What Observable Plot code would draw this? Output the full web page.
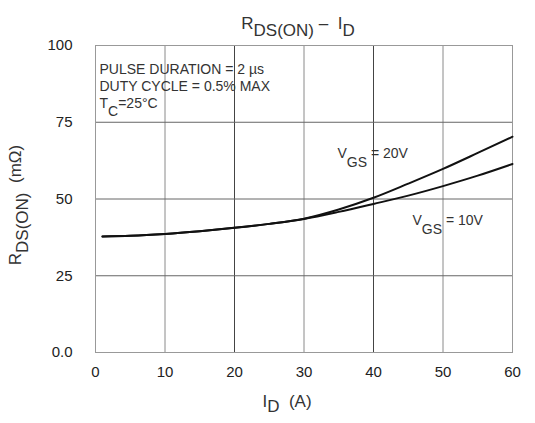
<!DOCTYPE html>
<html><head><meta charset="utf-8">
<script src="https://cdn.jsdelivr.net/npm/d3@7"></script>
<script src="https://cdn.jsdelivr.net/npm/@observablehq/plot@0.6"></script>
<style>body{margin:0;background:#fff}</style>
</head><body><div id="chart"></div>
<script>
// Drain current I_D (A)
const currentA = [1, 5, 10, 15, 20, 25, 30, 35, 40, 45, 50, 55, 60];
// R_DS(ON) (mΩ) at V_GS = 10 V and 20 V
const rdsVgs10 = [37.8, 38.0, 38.6, 39.5, 40.6, 41.9, 43.5, 45.8, 48.4, 51.1, 54.2, 57.6, 61.4];
const rdsVgs20 = [37.8, 38.0, 38.6, 39.5, 40.6, 41.9, 43.6, 46.6, 50.4, 55.0, 59.8, 65.0, 70.3];
const xTicks = [0, 10, 20, 30, 40, 50, 60];
const yTicks = [0, 25, 50, 75, 100];
const yTickLabels = ["0.0", "25", "50", "75", "100"];
// Text pieces: [text, isSubscript]
const titleSegs = [["R", 0], ["DS(ON)", 1], [" \u2013  ", 0], ["I", 0], ["D", 1]];
const xLabelSegs = [["I", 0], ["D", 1], ["  (A)", 0]];
const yLabelSegs = [["R", 0], ["DS(ON)", 1], ["  (m\u03A9)", 0]];
const noteLines = ["PULSE DURATION = 2 \u00B5s", "DUTY CYCLE = 0.5% MAX", "TC=25\u00B0C"];
const noteTcSegs = [["T", 0], ["C", 1], ["=25\u00B0C", 0]];
const vgs20Segs = [["V", 0], ["GS", 1], [" = 20V", 0]];
const vgs10Segs = [["V", 0], ["GS", 1], [" = 10V", 0]];

const series = [
  ...currentA.map((x, i) => ({x, r: rdsVgs10[i], s: "10V"})),
  ...currentA.map((x, i) => ({x, r: rdsVgs20[i], s: "20V"}))
];
const plain = segs => segs.map(d => d[0]).join("");
const font = "Liberation Sans, Arial, Helvetica, sans-serif";

const svg = Plot.plot({
  width: 535, height: 423,
  marginLeft: 95, marginRight: 23, marginTop: 45, marginBottom: 71,
  style: {fontFamily: font, fontSize: "15px", color: "#222", background: "#fff"},
  x: {domain: [0, 60], ticks: xTicks, tickSize: 0, tickPadding: 14, label: null},
  y: {domain: [0, 100], ticks: yTicks, tickSize: 0, tickPadding: 23, label: null,
      tickFormat: d => yTickLabels[yTicks.indexOf(d)]},
  marks: [
    Plot.ruleX(xTicks.filter(d => d % 20 !== 0), {stroke: "#8a8a8a", strokeWidth: 1}),
    Plot.ruleX(xTicks.filter(d => d % 20 === 0 && d > 0 && d < 60), {stroke: "#444", strokeWidth: 1}),
    Plot.ruleY(yTicks, {stroke: "#666", strokeWidth: 1}),
    Plot.frame({stroke: "#999", strokeWidth: 1}),
    Plot.line(series, {x: "x", y: "r", z: "s", curve: "monotone-x", stroke: "#111", strokeWidth: 2}),
    Plot.text([plain(titleSegs)], {frameAnchor: "top", dx: -6, dy: -29, fontSize: 17, fill: "#333"}),
    Plot.text([plain(xLabelSegs)], {frameAnchor: "bottom", dx: -17, dy: 54, fontSize: 17, fill: "#333"}),
    Plot.text([plain(yLabelSegs)], {frameAnchor: "left", textAnchor: "middle", dx: -80, dy: 6, rotate: -90, fontSize: 17, fill: "#333"}),
    ...noteLines.map((s, i) => Plot.text([s], {frameAnchor: "top-left", textAnchor: "start", dx: 4, dy: 19 + 17 * i, fontSize: 14, fill: "#333"})),
    Plot.text([plain(vgs20Segs)], {frameAnchor: "top-left", textAnchor: "start", dx: 242, dy: 103, fontSize: 14, fill: "#333"}),
    Plot.text([plain(vgs10Segs)], {frameAnchor: "top-left", textAnchor: "start", dx: 317, dy: 170, fontSize: 14, fill: "#333"})
  ]
});

function rich(segs, shift) {
  const str = plain(segs);
  d3.select(svg).selectAll("text").filter(function () { return this.textContent === str; }).each(function () {
    const t = d3.select(this);
    t.text(null);
    let cur = 0;
    for (const [s, sub] of segs) {
      const target = sub ? shift : 0;
      t.append("tspan").attr("dy", (target - cur) + "px").text(s);
      cur = target;
    }
  });
}
rich(titleSegs, 7);
rich(xLabelSegs, 5);
rich(yLabelSegs, 7);
rich(noteTcSegs, 8);
rich(vgs20Segs, 9);
rich(vgs10Segs, 9);

document.getElementById("chart").appendChild(svg);
</script>
</body></html>
